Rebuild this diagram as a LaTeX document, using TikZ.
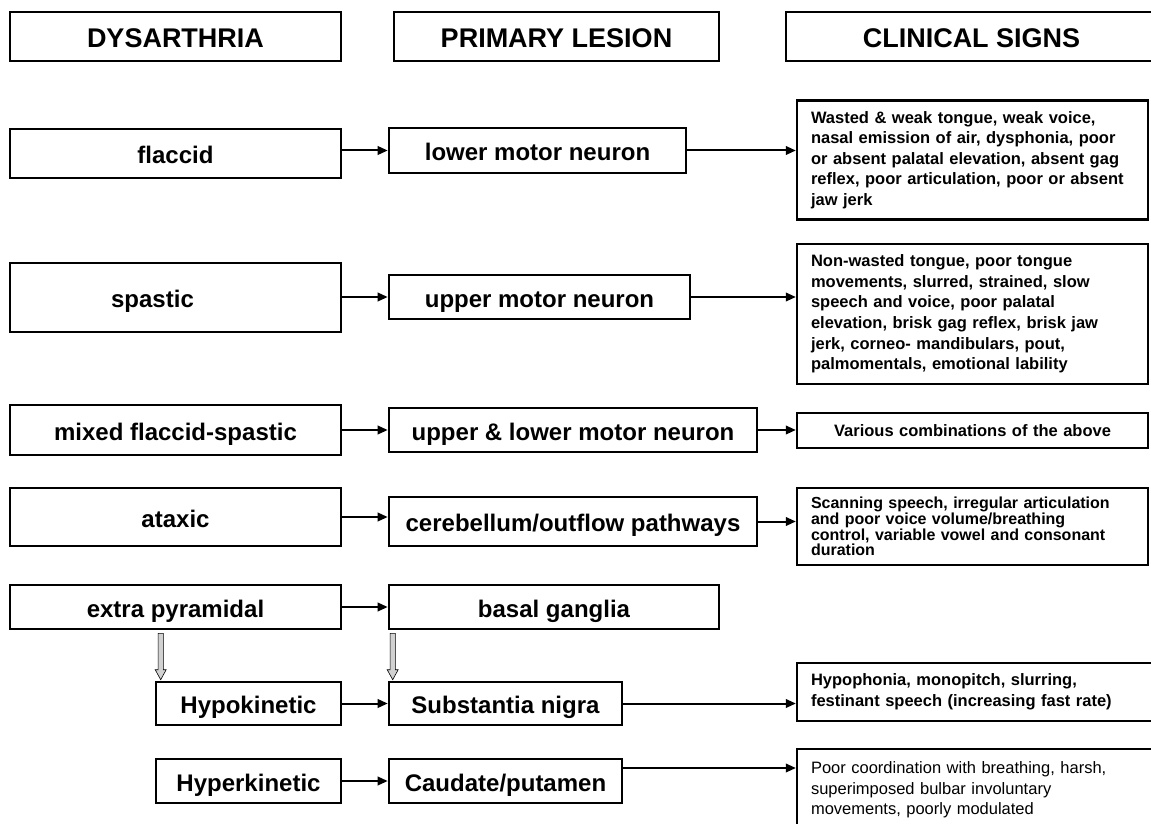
\documentclass[tikz,border=0pt]{standalone}
\usepackage{fontspec}
\setmainfont{Liberation Sans}
\usetikzlibrary{arrows.meta,calc}
\tikzset{
  box/.style={draw, line width=2.6pt, inner sep=0pt, text height=20pt, text depth=0pt,
     font=\bfseries\fontsize{24}{26}\selectfont},
  hdr/.style={box, text height=23pt, font=\bfseries\fontsize{27}{30}\selectfont},
  sign/.style={draw, line width=2.3pt, inner xsep=14pt, inner ysep=0pt, align=left,
     font=\bfseries\fontsize{16.5}{20.6}\selectfont},
  arr/.style={line width=2pt, -{Triangle[length=10pt,width=8.5pt]}},
  hollow/.style={draw=black, line width=0.6pt, fill=black!18},
}
\begin{document}
\begin{tikzpicture}[x=1pt,y=-1pt]
\useasboundingbox (0,0) rectangle (1151,824);
% headers
\node[hdr, minimum width=331, minimum height=49] (h1) at (175.5,36.5) {DYSARTHRIA};
\node[hdr, minimum width=325, minimum height=49] (h2) at (556.5,36.5) {PRIMARY LESION};
\node[hdr, minimum width=379, minimum height=49] (h3) at (975.5,36.5) {\hspace*{-8pt}CLINICAL SIGNS};
% row 1
\node[box, minimum width=331, minimum height=49] (flaccid) at (175.5,153.5) {flaccid};
\node[box, minimum width=297, minimum height=45] (lmn) at (537.5,150.5) {lower motor neuron};
\node[sign, text width=323, minimum height=119] (c1) at (972.5,160) {Wasted \& weak tongue, weak voice,\\nasal emission of air, dysphonia, poor\\or absent palatal elevation, absent gag\\reflex, poor articulation, poor or absent\\jaw jerk};
% row 2
\node[box, minimum width=331, minimum height=69] (spastic) at (175.5,297.5) {spastic\hspace*{46pt}};
\node[box, minimum width=301, minimum height=44] (umn) at (539.5,297) {upper motor neuron};
\node[sign, text width=323, minimum height=140] (c2) at (972.5,314) {Non-wasted tongue, poor tongue\\movements, slurred, strained, slow\\speech and voice, poor palatal\\elevation, brisk gag reflex, brisk jaw\\jerk, corneo- mandibulars, pout,\\palmomentals, emotional lability};
% row 3
\node[box, minimum width=331, minimum height=50] (mixed) at (175.5,430) {mixed flaccid-spastic};
\node[box, minimum width=368, minimum height=44] (ulmn) at (573,430) {upper \& lower motor neuron};
\node[sign, align=center, text width=323, minimum height=35, font=\bfseries\fontsize{16.5}{18}\selectfont] (c3) at (972.5,430.5) {Various combinations of the above};
% row 4
\node[box, minimum width=331, minimum height=58] (ataxic) at (175.5,517) {ataxic};
\node[box, minimum width=368, minimum height=49] (cer) at (573,521.5) {cerebellum/outflow pathways};
\node[sign, text width=323, minimum height=77, font=\bfseries\fontsize{16}{15.8}\selectfont] (c4) at (972.5,526.5) {Scanning speech, irregular articulation\\and poor voice volume/breathing\\control, variable vowel and consonant\\duration};
% row 5
\node[box, minimum width=331, minimum height=44] (ep) at (175.5,607) {extra pyramidal};
\node[box, minimum width=330, minimum height=44] (bg) at (554,607) {basal ganglia};
% row 6
\node[box, minimum width=185, minimum height=43] (hypo) at (248.5,703.5) {Hypokinetic};
\node[box, minimum width=233, minimum height=43] (subs) at (505.5,703.5) {Substantia nigra};
\node[sign, text width=340, minimum height=58] (c6) at (981,692) {Hypophonia, monopitch, slurring,\\festinant speech (increasing fast rate)};
% row 7
\node[box, minimum width=185, minimum height=44] (hyper) at (248.5,781) {Hyperkinetic};
\node[box, minimum width=233, minimum height=44] (caud) at (505.5,781) {Caudate/putamen};
\node[sign, text width=340, minimum height=82, font=\fontsize{16.5}{20.3}\selectfont] (c7) at (981,790) {Poor coordination with breathing, harsh,\\superimposed bulbar involuntary\\movements, poorly modulated};
% connectors
\draw[arr] (flaccid.east |- lmn.west) -- (lmn.west);
\draw[arr] (lmn.east) -- (lmn.east -| c1.west);
\draw[arr] (spastic.east |- umn.west) -- (umn.west);
\draw[arr] (umn.east) -- (umn.east -| c2.west);
\draw[arr] (mixed.east) -- (mixed.east -| ulmn.west);
\draw[arr] (ulmn.east) -- (ulmn.east -| c3.west);
\draw[arr] (ataxic.east) -- (ataxic.east -| cer.west);
\draw[arr] (cer.east) -- (cer.east -| c4.west);
\draw[arr] (ep.east) -- (bg.west);
\draw[arr] (hypo.east) -- (subs.west);
\draw[arr] (subs.east) -- (subs.east -| c6.west);
\draw[arr] (hyper.east) -- (caud.west);
\coordinate (k) at ($(caud.east)+(0,-13)$);
\draw[arr] (k) -- (k -| c7.west);
% hollow arrows
\coordinate (a1e) at ($(hypo.north west)+(6,-1)$);
\coordinate (a1) at ($(a1e |- ep.south)+(0,3)$);
\coordinate (a2e) at ($(subs.north west)+(5,-1)$);
\coordinate (a2) at ($(a2e |- bg.south)+(0,3)$);
\foreach \s/\e in {a1/a1e, a2/a2e}{
  \draw[hollow] ($(\s)+(-2.6,0)$) -- ($(\e)+(-2.6,-10)$) -- ($(\e)+(-5.5,-10)$) -- (\e)
     -- ($(\e)+(5.5,-10)$) -- ($(\e)+(2.6,-10)$) -- ($(\s)+(2.6,0)$) -- cycle;
}
\end{tikzpicture}
\end{document}
